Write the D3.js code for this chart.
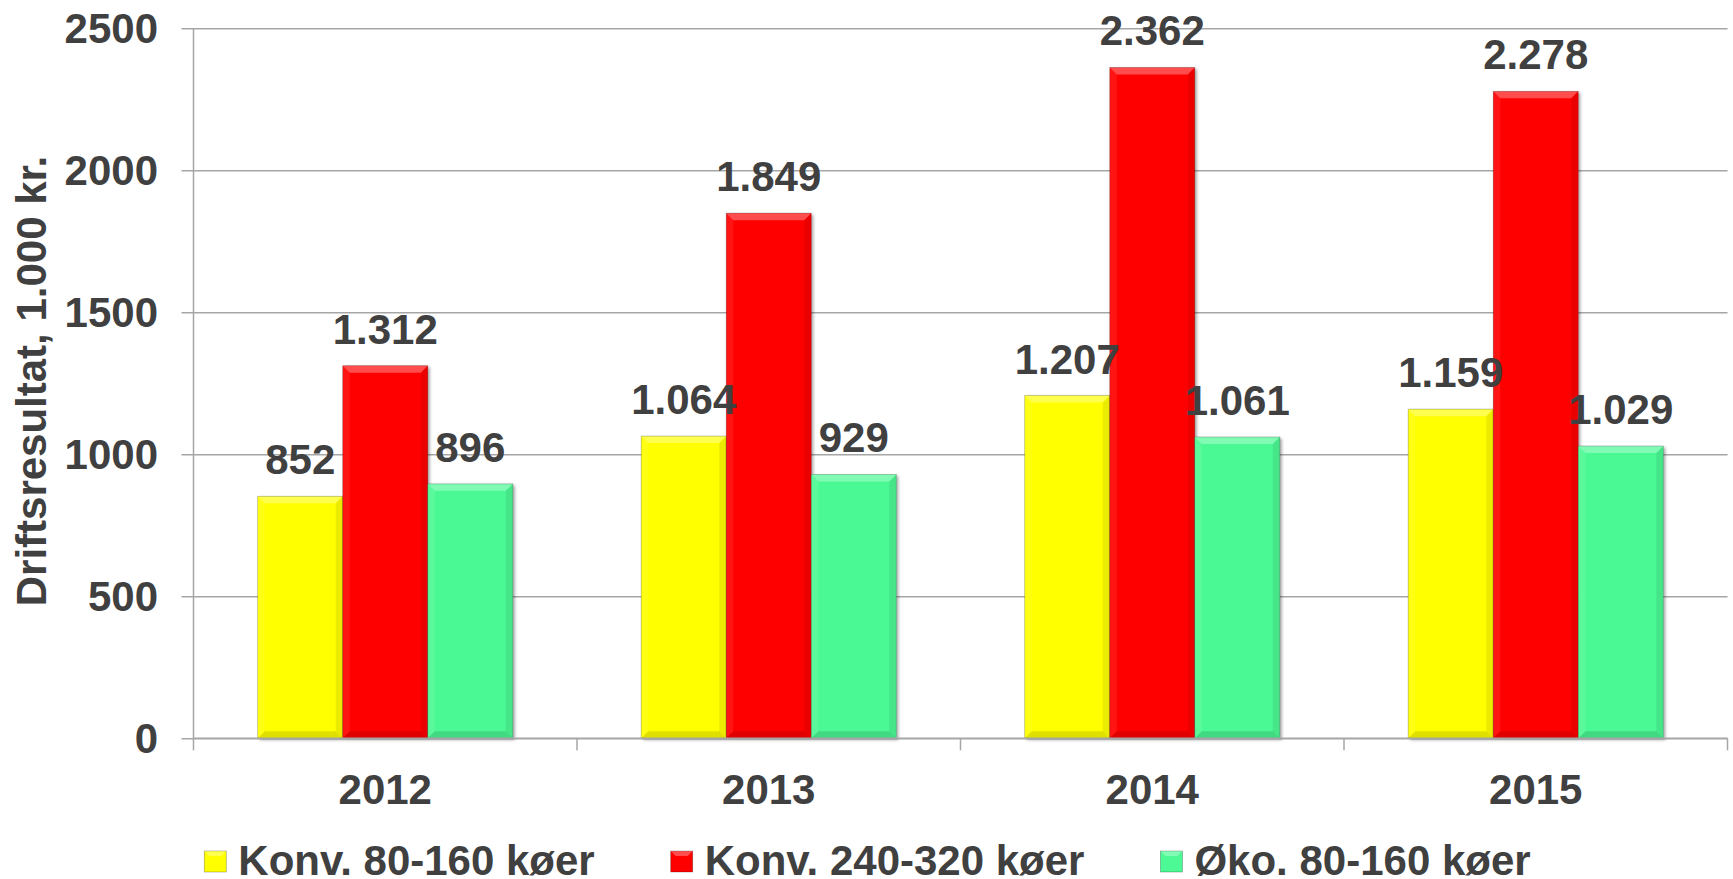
<html>
<head>
    <script src="https://d3js.org/d3.v7.min.js"></script>
    <style>
        body { margin: 0; background: #fff; }
        text { font-family: "Liberation Sans", Arial, sans-serif; font-weight: bold; fill: #404040; }
    </style>
</head>
<body>
    <svg id="chart" width="1733" height="879"></svg>
    <script>
        // data
        const years = ["2012", "2013", "2014", "2015"];
        const seriesNames = ["Konv. 80-160 køer", "Konv. 240-320 køer", "Øko. 80-160 køer"];
        const konvSmall = [852, 1064, 1207, 1159];
        const konvLarge = [1312, 1849, 2362, 2278];
        const oko = [896, 929, 1061, 1029];
        const yTicks = [0, 500, 1000, 1500, 2000, 2500];
        const colors = ["#ffff00", "#ff0000", "#4cf994"];

        const seriesValues = [konvSmall, konvLarge, oko];
        const fmt = v => d3.format(",")(v).replace(",", ".");
        const fontSize = "42px";

        const svg = d3.select("#chart");
        const plotLeft = 193.5, plotRight = 1727.5, plotTop = 28.3, plotBottom = 738.3;

        const x0 = d3.scaleBand().domain(years).range([plotLeft, plotRight]).paddingInner(0).paddingOuter(0);
        const x1 = d3.scaleBand().domain(d3.range(3)).range([0, x0.bandwidth()]).paddingInner(0).paddingOuter(0.755);
        const y = d3.scaleLinear().domain([0, 2500]).range([plotBottom, plotTop]);

        const defs = svg.append("defs");
        defs.append("filter").attr("id", "shadow")
            .attr("x", "-10%").attr("y", "-10%").attr("width", "130%").attr("height", "130%")
            .append("feDropShadow")
            .attr("dx", 2).attr("dy", 1.5).attr("stdDeviation", 1.5)
            .attr("flood-color", "#000").attr("flood-opacity", 0.35);

        // gridlines
        svg.append("g")
            .attr("transform", "translate(" + plotLeft + ",0)")
            .call(d3.axisLeft(y).tickValues(yTicks).tickSize(-(plotRight - plotLeft)).tickFormat(""))
            .call(g => g.select(".domain").remove())
            .call(g => g.selectAll("line").attr("stroke", "#a6a6a6").attr("stroke-width", 1.5)
                .attr("x1", -12));

        // y axis line
        svg.append("line")
            .attr("x1", plotLeft).attr("x2", plotLeft).attr("y1", plotTop).attr("y2", plotBottom)
            .attr("stroke", "#a6a6a6").attr("stroke-width", 1.5);

        // y tick labels
        svg.append("g").selectAll("text").data(yTicks).join("text")
            .attr("x", 158).attr("y", d => y(d) + 15)
            .attr("text-anchor", "end")
            .style("font-size", fontSize)
            .text(d => d);

        // bars
        const groups = svg.append("g").selectAll("g").data(years).join("g")
            .attr("transform", d => "translate(" + x0(d) + ",0)");

        groups.each(function (yr, i) {
            const g = d3.select(this);
            seriesValues.forEach((vals, s) => {
                const bx = x1(s), bw = x1.bandwidth();
                const by = y(vals[i]), bh = plotBottom - by;
                const b = 7;
                const bar = g.append("g");
                bar.append("rect")
                    .attr("x", bx).attr("y", by).attr("width", bw).attr("height", bh)
                    .attr("fill", colors[s])
                    .attr("filter", "url(#shadow)");
                // bevel faces
                const faces = [
                    { pts: [[bx, by], [bx + bw, by], [bx + bw - b, by + b], [bx + b, by + b]], c: "#fff", o: 0.3 },
                    { pts: [[bx, by], [bx + b, by + b], [bx + b, by + bh - b], [bx, by + bh]], c: "#fff", o: 0.08 },
                    { pts: [[bx + bw, by], [bx + bw, by + bh], [bx + bw - b, by + bh - b], [bx + bw - b, by + b]], c: "#000", o: 0.08 },
                    { pts: [[bx, by + bh], [bx + b, by + bh - b], [bx + bw - b, by + bh - b], [bx + bw, by + bh]], c: "#000", o: 0.12 }
                ];
                faces.forEach(f => {
                    bar.append("polygon")
                        .attr("points", f.pts.map(p => p.join(",")).join(" "))
                        .attr("fill", f.c).attr("fill-opacity", f.o);
                });
                bar.append("rect")
                    .attr("x", bx).attr("y", by).attr("width", bw).attr("height", bh)
                    .attr("fill", "none").attr("stroke", "#000").attr("stroke-opacity", 0.25).attr("stroke-width", 0.8);
            });
        });

        // x axis
        svg.append("line")
            .attr("x1", plotLeft).attr("x2", plotRight).attr("y1", plotBottom).attr("y2", plotBottom)
            .attr("stroke", "#a6a6a6").attr("stroke-width", 1.5);
        const boundaries = years.map(d => x0(d)).concat([plotRight]);
        svg.append("g").selectAll("line").data(boundaries).join("line")
            .attr("x1", d => d).attr("x2", d => d).attr("y1", plotBottom).attr("y2", plotBottom + 12)
            .attr("stroke", "#a6a6a6").attr("stroke-width", 1.5);

        svg.append("g").selectAll("text").data(years).join("text")
            .attr("x", d => x0(d) + x0.bandwidth() / 2).attr("y", 804)
            .attr("text-anchor", "middle")
            .style("font-size", fontSize)
            .text(d => d);

        // data labels
        groups.each(function (yr, i) {
            const g = d3.select(this);
            seriesValues.forEach((vals, s) => {
                g.append("text")
                    .attr("x", x1(s) + x1.bandwidth() / 2)
                    .attr("y", y(vals[i]) - 22)
                    .attr("text-anchor", "middle")
                    .style("font-size", fontSize)
                    .text(fmt(vals[i]));
            });
        });

        // y title
        svg.append("text")
            .attr("transform", "rotate(-90)")
            .attr("x", -381).attr("y", 45.5)
            .attr("text-anchor", "middle")
            .style("font-size", fontSize)
            .text("Driftsresultat, 1.000 kr.");

        // legend
        const legend = svg.append("g");
        let lx = 204.3;
        seriesNames.forEach((name, s) => {
            const item = legend.append("g");
            item.append("rect")
                .attr("x", lx).attr("y", 851).attr("width", 22).attr("height", 21)
                .attr("fill", colors[s]).attr("stroke", "#000").attr("stroke-opacity", 0.3).attr("stroke-width", 0.8);
            item.append("polygon")
                .attr("points", [[lx, 851], [lx + 22, 851], [lx + 17, 856], [lx + 5, 856]].map(p => p.join(",")).join(" "))
                .attr("fill", "#fff").attr("fill-opacity", 0.3);
            const t = item.append("text")
                .attr("x", lx + 34).attr("y", 874.5)
                .style("font-size", fontSize)
                .text(name);
            lx += 34 + t.node().getComputedTextLength() + 76;
        });
    </script>
</body>
</html>
